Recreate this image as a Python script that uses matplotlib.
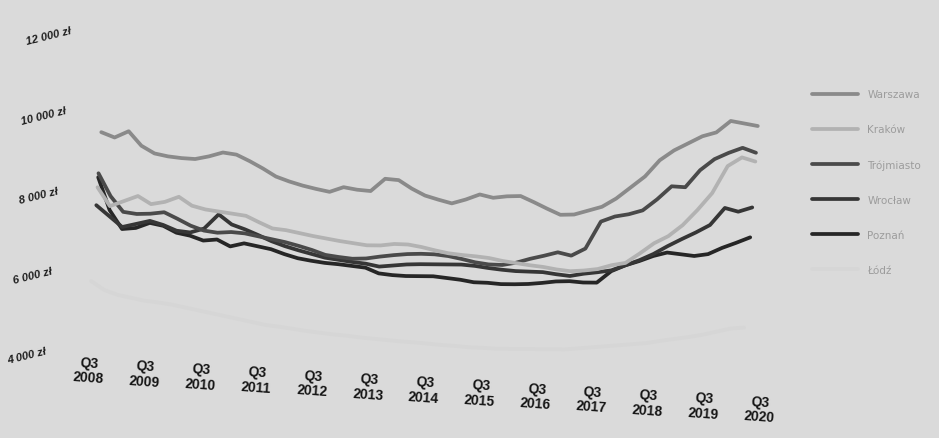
import numpy as np
import matplotlib
matplotlib.use('Agg')
import matplotlib.pyplot as plt
from matplotlib.transforms import Affine2D

# quarterly prices per m2, Q3 2008 .. Q3 2020
years = [2008, 2009, 2010, 2011, 2012, 2013, 2014, 2015, 2016, 2017, 2018, 2019, 2020]
y_ticks = [4000, 6000, 8000, 10000, 12000]
y_labels = ['4 000 zł', '6 000 zł', '8 000 zł', '10 000 zł', '12 000 zł']

warszawa = [9530, 9420, 9600, 9260, 9090, 9040, 9020, 9020, 9110, 9230,
            9200, 9060, 8900, 8720, 8620, 8540, 8480, 8430, 8570, 8530,
            8520, 8850, 8840, 8650, 8500, 8420, 8350, 8470, 8620, 8560,
            8620, 8650, 8520, 8380, 8250, 8280, 8400, 8520, 8750, 9050,
            9350, 9780, 10050, 10250, 10450, 10570, 10880, 10840, 10800]
krakow = [8150, 7700, 7850, 8000, 7820, 7900, 8050, 7850, 7780, 7750,
          7720, 7690, 7550, 7420, 7400, 7350, 7300, 7260, 7220, 7190,
          7160, 7180, 7240, 7250, 7210, 7150, 7100, 7080, 7070, 7050,
          7000, 6970, 6940, 6920, 6880, 6860, 6900, 6960, 7080, 7160,
          7420, 7700, 7900, 8200, 8600, 9050, 9750, 9990, 9910]
trojmiasto = [8500, 7950, 7580, 7550, 7580, 7640, 7500, 7350, 7250, 7220,
              7260, 7250, 7200, 7150, 7100, 7030, 6950, 6850, 6820, 6800,
              6830, 6900, 6960, 7010, 7040, 7050, 7030, 6980, 6920, 6890,
              6900, 6980, 7100, 7200, 7310, 7250, 7450, 8150, 8300, 8380,
              8500, 8800, 9150, 9150, 9600, 9900, 10080, 10230, 10130]
wroclaw = [7700, 7450, 7200, 7300, 7400, 7320, 7200, 7180, 7300, 7680,
           7450, 7350, 7230, 7100, 7000, 6920, 6850, 6780, 6750, 6720,
           6700, 6650, 6700, 6750, 6780, 6800, 6820, 6840, 6830, 6800,
           6780, 6770, 6780, 6790, 6760, 6740, 6820, 6880, 6950, 7100,
           7250, 7430, 7650, 7850, 8040, 8250, 8700, 8630, 8760]
poznan = [8400, 7600, 7150, 7200, 7350, 7300, 7150, 7100, 7000, 7050,
          6900, 7000, 6950, 6900, 6800, 6720, 6680, 6650, 6640, 6620,
          6600, 6480, 6460, 6460, 6480, 6500, 6480, 6460, 6420, 6430,
          6420, 6440, 6470, 6520, 6580, 6610, 6600, 6620, 6930, 7100,
          7230, 7380, 7490, 7470, 7450, 7520, 7700, 7850, 8010]
lodz = [5800, 5600, 5500, 5450, 5400, 5380, 5350, 5300, 5250, 5200,
        5150, 5100, 5050, 5000, 4980, 4950, 4920, 4900, 4880, 4870,
        4850, 4840, 4830, 4820, 4820, 4810, 4800, 4800, 4790, 4800,
        4800, 4820, 4840, 4860, 4880, 4900, 4950, 5000, 5050, 5100,
        5150, 5200, 5280, 5350, 5420, 5500, 5600, 5700, 5750]

series = [('Warszawa', warszawa, '#8a8a8a'),
          ('Kraków', krakow, '#b2b2b2'),
          ('Trójmiasto', trojmiasto, '#4a4a4a'),
          ('Wrocław', wroclaw, '#363636'),
          ('Poznań', poznan, '#262626'),
          ('Łódź', lodz, '#d6d6d6')]

bg = '#dadada'
fig = plt.figure(figsize=(9.39, 4.39), dpi=100, facecolor=bg)
ax = fig.add_axes([70 / 939, 89 / 439, 720 / 939, 320 / 439])
ax.set_xlim(-2, 50.8)
ax.set_ylim(4000, 12000)
ax.axis('off')

# the printed page is photographed slightly tilted
rot = Affine2D().rotate_deg_around(35, 249, -3.9)
tr = ax.transData + rot
tr_lab = ax.transData + Affine2D().rotate_deg_around(35, 249, -3.3)

x = np.arange(len(warszawa))
handles = []
for name, vals, col in series[::-1]:
    h, = ax.plot(x, vals, color=col, lw=2.7, transform=tr, clip_on=False,
                 solid_capstyle='round', label=name)
    handles.append(h)
handles = handles[::-1]

sans = ['Liberation Sans', 'DejaVu Sans']
for k, yr in enumerate(years):
    ax.text(0.1 + x[k * 4] * 1.028, 3560, 'Q3\n%d' % yr, transform=tr_lab,
            ha='center', va='center', rotation=-4, fontsize=10,
            fontweight='bold', color='#151515', family=sans, linespacing=1.1,
            clip_on=False)

for v, lab in zip(y_ticks, y_labels):
    ax.text(-4.3, v - 150, lab, transform=tr, ha='center', va='center',
            rotation=14, fontsize=8, fontstyle='italic', fontweight='bold',
            color='#1e1e1e', family=sans, clip_on=False)

leg = fig.legend(handles=handles, loc='upper left',
                 bbox_to_anchor=(808 / 939, 1 - 86 / 439), frameon=False,
                 borderaxespad=0, handlelength=4.4, handletextpad=0.9,
                 labelspacing=2.4, fontsize=7.5)
for t in leg.get_texts():
    t.set_color('#9c9c9c')

fig.savefig('out.png', dpi=100, facecolor=bg)
